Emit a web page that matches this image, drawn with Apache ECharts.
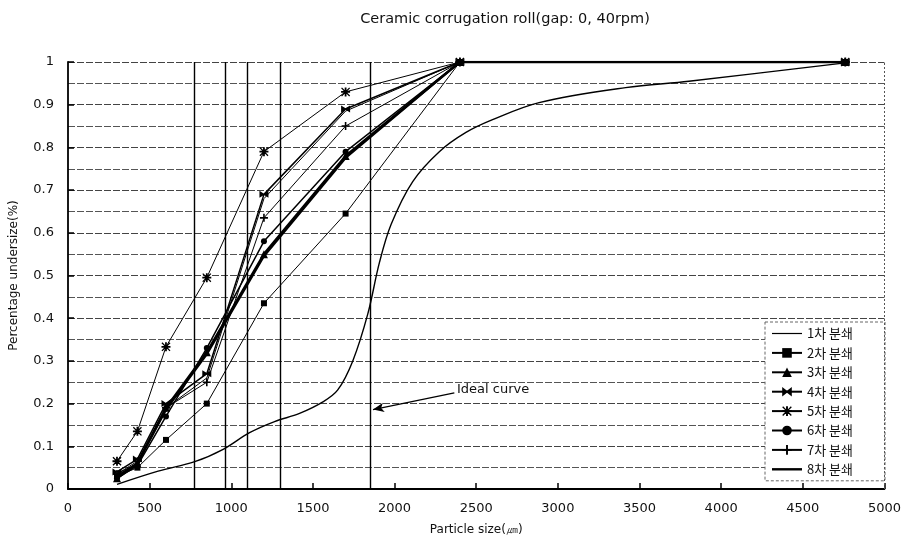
<!DOCTYPE html>
<html>
<head>
<meta charset="utf-8">
<script src="https://cdn.jsdelivr.net/npm/echarts@6/dist/echarts.min.js"></script>
<style>html,body{margin:0;padding:0;background:#fff;}#c{width:904px;height:541px;}</style>
</head>
<body>
<div id="c"></div>
<script>
// Sieve sizes (µm)
const sizes = [300, 425, 600, 850, 1200, 1700, 2400, 4760];
const names = ['1차 분쇄','2차 분쇄','3차 분쇄','4차 분쇄','5차 분쇄','6차 분쇄','7차 분쇄','8차 분쇄'];
const s1 = [0.035, 0.06, 0.19, 0.26, 0.68, 0.885, 1, 1];
const s2 = [0.03, 0.05, 0.115, 0.2, 0.435, 0.645, 1, 1];
const s3 = [0.025, 0.06, 0.19, 0.32, 0.55, 0.78, 1, 1];
const s4 = [0.04, 0.07, 0.2, 0.27, 0.69, 0.89, 1, 1];
const s5 = [0.065, 0.135, 0.333, 0.495, 0.79, 0.93, 1, 1];
const s6 = [0.025, 0.055, 0.17, 0.33, 0.58, 0.79, 1, 1];
const s7 = [0.035, 0.065, 0.19, 0.25, 0.635, 0.85, 1, 1];
const s8 = [0.03, 0.06, 0.185, 0.315, 0.545, 0.775, 1, 1];
// Ideal curve
const idealX = [300, 552, 776, 950, 1112, 1265, 1418, 1561, 1652, 1744, 1836, 1907, 1979, 2111, 2274, 2437, 2600, 2885, 3415, 3802, 4760];
const idealY = [0.011, 0.042, 0.064, 0.093, 0.132, 0.158, 0.177, 0.204, 0.232, 0.3, 0.41, 0.53, 0.62, 0.72, 0.79, 0.835, 0.865, 0.905, 0.94, 0.955, 0.998];
// Reference vertical lines (µm)
const refLines = [775, 960, 1100, 1300, 1850];
const xTicks = [0, 500, 1000, 1500, 2000, 2500, 3000, 3500, 4000, 4500, 5000];

const seriesValues = [s1, s2, s3, s4, s5, s6, s7, s8];
const PLUS = 'path://M4,0H6V4H10V6H6V10H4V6H0V4H4Z';
const ASTER = 'path://M4,0H6V4H10V6H6V10H4V6H0V4H4Z M1,0L5,4L9,0L10,1L6,5L10,9L9,10L5,6L1,10L0,9L4,5L0,1Z';
const BOWTIE = 'path://M0,0L5,4L10,0L10,10L5,6L0,10Z';
const styles = [
  {symbol:'none', size:0, w:1},
  {symbol:'rect', size:6, w:1},
  {symbol:'triangle', size:8, w:2.5},
  {symbol:BOWTIE, size:[9,7], w:1.5},
  {symbol:ASTER, size:9, w:1},
  {symbol:'circle', size:6, w:1.5},
  {symbol:PLUS, size:8, w:1},
  {symbol:'none', size:0, w:2}
];

const FONT = 'DejaVu Sans';
const series = seriesValues.map((vals, i) => ({
  name: names[i],
  type: 'line',
  data: sizes.map((x, j) => [x, vals[j]]),
  symbol: styles[i].symbol,
  symbolSize: styles[i].size,
  showSymbol: styles[i].symbol !== 'none',
  lineStyle: {color:'#000', width: styles[i].w},
  itemStyle: {color:'#000'},
  z: 3,
  silent: true
}));

series.push({
  name: 'Ideal curve',
  type: 'line',
  data: idealX.map((x, j) => [x, idealY[j]]),
  smooth: 0.35,
  symbol: 'none',
  lineStyle: {color:'#000', width: 1.4},
  z: 2,
  silent: true,
  markLine: {
    silent: true,
    symbol: 'none',
    label: {show:false},
    animation: false,
    data: refLines.map(v => ({xAxis: v, lineStyle:{color:'#000', width:1.4, type:'solid'}}))
      .concat([{xAxis: 5000, lineStyle:{color:'#555', width:1, type:[2,2]}}])
      .concat([[
        {coord:[2366, 0.225], symbol:'none', lineStyle:{color:'#000', width:1.3, type:'solid'}},
        {coord:[1868, 0.186], symbol:'arrow', symbolSize:[7,11]}
      ]])
  }
});

const legendData = names.map((n, i) => styles[i].symbol === 'none'
  ? {name: n, icon: i === 0 ? 'path://M0,0H30V1.2H0Z' : 'path://M0,0H30V2.4H0Z', itemStyle: {color: '#000'}}
  : {name: n});

const chart = echarts.init(document.getElementById('c'));
chart.setOption({
  animation: false,
  backgroundColor: '#fff',
  textStyle: {fontFamily: FONT},
  title: {
    text: 'Ceramic corrugation roll(gap: 0, 40rpm)',
    left: 500, top: 7, textAlign: 'center',
    textStyle: {fontSize: 14.5, fontWeight: 'normal', color: '#111', fontFamily: FONT}
  },
  grid: {left: 68, right: 18, top: 62, bottom: 52, containLabel: false},
  legend: {
    data: legendData,
    orient: 'vertical',
    left: 765, top: 322,
    itemWidth: 30, itemHeight: 12, itemGap: 6.4,
    padding: [5, 32, 5, 6],
    backgroundColor: '#fff',
    borderColor: '#666', borderWidth: 1, borderType: [3,2],
    textStyle: {fontSize: 13, color: '#111', fontFamily: 'Noto Sans CJK KR'},
    selectedMode: false
  },
  xAxis: {
    type: 'value', min: 0, max: 5000, interval: 500,
    name: 'Particle size(㎛)', nameLocation: 'middle', nameGap: 35,
    nameTextStyle: {fontSize: 12, color: '#111', fontFamily: FONT},
    axisLine: {lineStyle: {color: '#000', width: 1.8}},
    axisTick: {inside: true, length: 6, lineStyle: {color:'#000', width: 1.5}},
    axisLabel: {fontSize: 13, color: '#111', margin: 13, fontFamily: FONT,
      formatter: v => String(xTicks[Math.round(v / 500)])},
    splitLine: {show: false}
  },
  yAxis: {
    type: 'value', min: 0, max: 1, interval: 0.1,
    name: 'Percentage undersize(%)', nameLocation: 'middle', nameGap: 48,
    nameTextStyle: {fontSize: 12, color: '#111', fontFamily: FONT},
    axisLine: {show: true, lineStyle: {color: '#000', width: 1.8}},
    axisTick: {show: true, inside: true, length: 6, lineStyle: {color:'#000', width: 1.5}},
    axisLabel: {fontSize: 13, color: '#111', margin: 14, fontFamily: FONT},
    splitLine: {show: true, lineStyle: {color: '#444', width: 1, type: [7,2]}},
    minorTick: {show: false, splitNumber: 2},
    minorSplitLine: {show: true, lineStyle: {color: '#555', width: 1, type: [7,2]}}
  },
  graphic: [{
    type: 'text', left: 457, top: 383, silent: true,
    style: {text: 'Ideal curve', fontSize: 13, fill: '#111', fontFamily: FONT}
  }],
  series: series
});
</script>
</body>
</html>
